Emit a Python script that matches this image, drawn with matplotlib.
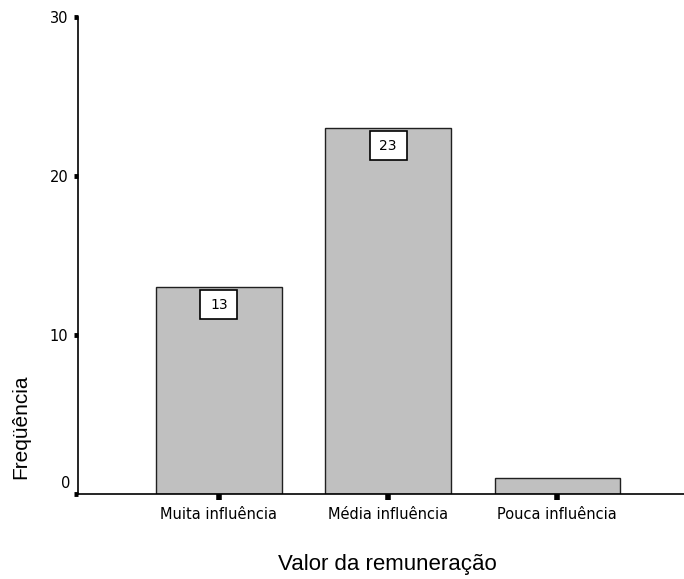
import matplotlib
matplotlib.use("Agg")
import matplotlib.pyplot as plt
from matplotlib.patches import Rectangle
from matplotlib.transforms import ScaledTranslation

categories = ["Muita influência", "Média influência", "Pouca influência"]
frequencies = [13, 23, 1]
labeled = [True, True, False]
y_ticks = [0, 10, 20, 30]

plt.rcParams["font.family"] = ["Liberation Sans", "DejaVu Sans"]

fig = plt.figure(figsize=(6.84, 5.79), dpi=100)
ax = fig.add_axes([0.114, 0.1468, 0.886, 0.8238])

x = list(range(len(categories)))
ax.bar(x, frequencies, width=0.74, color="#c0c0c0", edgecolor="#202020",
       linewidth=1.0, zorder=2)

# value boxes hanging just below the top of each labeled bar (sizes in inches)
box_w, box_h, box_gap = 0.37, 0.29, 0.03
for xi, val, show in zip(x, frequencies, labeled):
    if show:
        anchor = fig.dpi_scale_trans + ScaledTranslation(xi, val, ax.transData)
        ax.add_patch(Rectangle((-box_w / 2, -box_gap - box_h), box_w, box_h,
                               transform=anchor, fc="white", ec="black",
                               lw=1.2, zorder=3, clip_on=False))
        ax.text(0, -box_gap - box_h / 2, str(val), transform=anchor,
                ha="center", va="center", fontsize=10,
                family="DejaVu Sans", color="black", zorder=4)

ax.set_xlim(-0.834, 2.751)
ax.set_ylim(0, 30)
ax.set_yticks(y_ticks)
ax.set_xticks(x)
ax.set_xticklabels(categories, fontsize=10.5, family="DejaVu Sans")
# the zero label is drawn separately, raised a little above its tick
ytick_labels = ["" if t == 0 else str(t) for t in y_ticks]
ax.set_yticklabels(ytick_labels, fontsize=10.5, family="DejaVu Sans")
ax.annotate(str(y_ticks[0]), xy=(0, y_ticks[0]),
            xycoords=("axes fraction", "data"), xytext=(-5.5, 7.5),
            textcoords="offset points", ha="right", va="center",
            fontsize=10.5, family="DejaVu Sans", color="black")

for side in ("top", "right"):
    ax.spines[side].set_visible(False)
ax.spines["left"].set_linewidth(1.2)
ax.spines["bottom"].set_linewidth(1.2)

ax.tick_params(axis="y", direction="out", length=3, width=3.5, pad=4)
ax.tick_params(axis="x", direction="out", length=4, width=4, pad=5)

ax.set_xlabel("Valor da remuneração", fontsize=16, va="top")
ax.xaxis.set_label_coords(0.51, -0.125)
ax.set_ylabel("Freqüência", fontsize=15)
ax.yaxis.set_label_coords(-0.078, 0.14)

fig.savefig("out.png", dpi=100, facecolor="white")
